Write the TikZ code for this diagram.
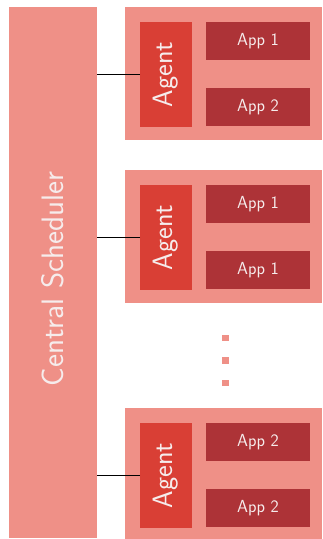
\documentclass[tikz,border=0pt]{standalone}
\usetikzlibrary{positioning}
\definecolor{salmon}{HTML}{EF9087}
\definecolor{agentred}{HTML}{D93F35}
\definecolor{appred}{HTML}{AD3337}
\definecolor{lighttext}{HTML}{F6ECEC}
\tikzset{
  box/.style={inner sep=0pt, outer sep=0pt, draw=none, anchor=north west},
  sched/.style={box, fill=salmon},
  group/.style={box, fill=salmon},
  agentbox/.style={box, fill=agentred, minimum width=52pt, minimum height=105pt},
  appbox/.style={box, fill=appred, minimum width=104pt, minimum height=38pt},
  schedtext/.style={rotate=90, text=lighttext, font=\sffamily\fontsize{31}{36}\selectfont},
  agenttext/.style={rotate=90, text=lighttext, font=\sffamily\fontsize{28}{32}\selectfont},
  apptext/.style={text=lighttext, font=\sffamily\fontsize{17.5}{20}\selectfont},
  link/.style={line width=1.6pt, black},
  dot/.style={fill=salmon, minimum size=6.5pt, inner sep=0pt, draw=none}
}
\begin{document}
\begin{tikzpicture}[x=1pt, y=-1pt]
  \useasboundingbox (0,0) rectangle (322,539);
  % central scheduler column
  \node[sched, minimum width=88pt, minimum height=531pt] (cs) at (9,7) {};
  \node[schedtext] (cst) at ([yshift=-6.5pt]cs.center) {Central Scheduler};
  % host groups
  \foreach \n/\y/\a/\b in {g1/7/App 1/App 2, g2/170/App 1/App 1, g3/408/App 2/App 2}{
    \node[group, minimum width=197pt, minimum height=133pt] (\n) at (125,\y) {};
    \node[agentbox] (\n a) at (140,\y+15) {};
    \node[agenttext] (\n at) at (\n a.center) {Agent};
    \node[appbox] (\n p) at (206,\y+15) {};
    \node[apptext] (\n pt) at (\n p.center) {\a};
    \node[appbox] (\n q) at (206,\y+81) {};
    \node[apptext] (\n qt) at (\n q.center) {\b};
    \draw[link] (\n a.west) -- (\n a.west -| cs.east);
  }
  % ellipsis between groups
  \node[dot] (d1) at (225.5,338) {};
  \node[dot] (d2) at (225.5,360.5) {};
  \node[dot] (d3) at (225.5,383) {};
\end{tikzpicture}
\end{document}
